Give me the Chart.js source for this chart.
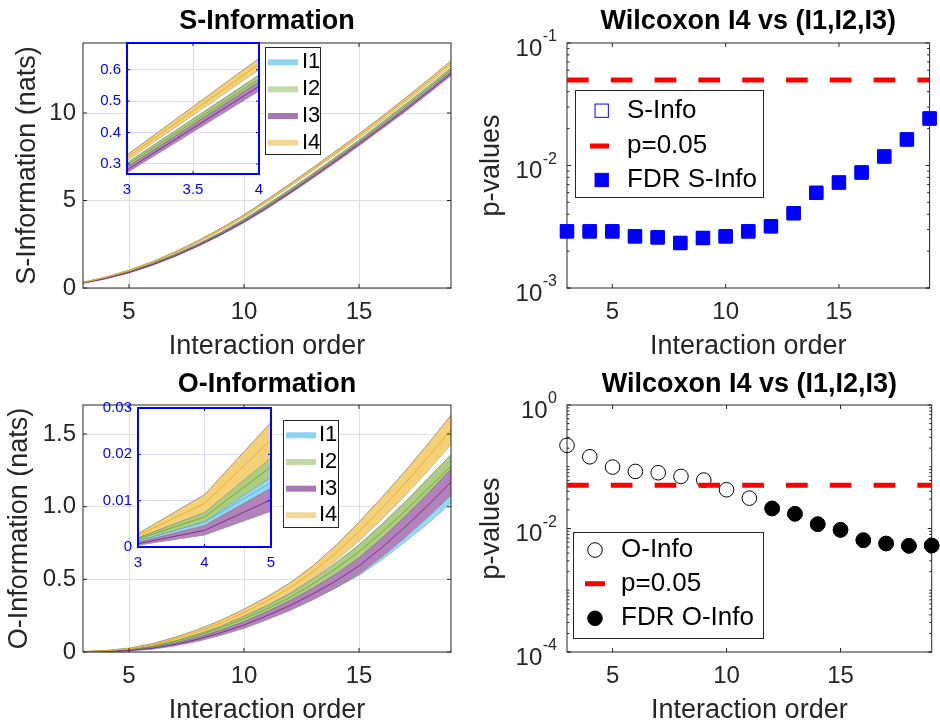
<!DOCTYPE html>
<html><head><meta charset="utf-8">
<script src="https://cdn.jsdelivr.net/npm/chart.js@4.4.1/dist/chart.umd.min.js"></script>
<style>
html,body{margin:0;padding:0;background:#fff;overflow:hidden;width:940px;height:722px;}
canvas{position:absolute;}
</style></head><body>
<canvas id="cS" width="470" height="361" style="left:0px;top:0px"></canvas>
<canvas id="cPS" width="470" height="361" style="left:470px;top:0px"></canvas>
<canvas id="cO" width="470" height="361" style="left:0px;top:361px"></canvas>
<canvas id="cPO" width="470" height="361" style="left:470px;top:361px"></canvas>
<canvas id="cSi" width="186" height="166" style="left:88px;top:36px"></canvas>
<canvas id="cOi" width="186" height="175" style="left:98px;top:400px"></canvas>
<script>
// ---------------- DATA ----------------
const ORDERS = [3,4,5,6,7,8,9,10,11,12,13,14,15,16,17,18,19];
const SERIES = ['I1','I2','I3','I4'];

// S-Information (nats): mean and spread per group
const S_I1 = [0.289,0.558,0.905,1.345,1.865,2.45,3.11,3.84,4.65,5.515,6.415,7.34,8.295,9.285,10.275,11.305,12.365];
const S_I2 = [0.297,0.570,0.925,1.37,1.90,2.48,3.15,3.89,4.71,5.58,6.48,7.41,8.37,9.38,10.38,11.41,12.48];
const S_I3 = [0.281,0.547,0.885,1.32,1.83,2.42,3.07,3.79,4.59,5.45,6.35,7.27,8.22,9.19,10.17,11.20,12.25];
const S_I4 = [0.320,0.618,1.00,1.47,2.03,2.66,3.36,4.12,4.98,5.88,6.80,7.74,8.70,9.70,10.72,11.77,12.85];
const S_I1_SD = [0.006,0.013,0.020,0.026,0.034,0.040,0.048,0.055,0.061,0.069,0.076,0.082,0.090,0.097,0.103,0.111,0.118];
const S_I2_SD = [0.007,0.013,0.020,0.027,0.034,0.041,0.047,0.055,0.062,0.069,0.075,0.083,0.090,0.097,0.104,0.111,0.118];
const S_I3_SD = [0.009,0.015,0.022,0.029,0.036,0.043,0.050,0.057,0.064,0.071,0.078,0.085,0.092,0.099,0.106,0.113,0.120];
const S_I4_SD = [0.009,0.018,0.025,0.032,0.040,0.048,0.056,0.064,0.072,0.080,0.088,0.096,0.104,0.112,0.120,0.128,0.136];

// O-Information (nats): mean and spread per group
const O_I1 = [0.0013,0.0054,0.0139,0.029,0.056,0.092,0.136,0.190,0.250,0.316,0.392,0.476,0.566,0.680,0.808,0.942,1.090];
const O_I2 = [0.0017,0.0065,0.0173,0.037,0.072,0.115,0.168,0.230,0.297,0.375,0.470,0.575,0.690,0.825,0.970,1.125,1.280];
const O_I3 = [0.0007,0.0036,0.0102,0.025,0.052,0.088,0.133,0.186,0.250,0.320,0.400,0.490,0.592,0.720,0.860,1.010,1.170];
const O_I4 = [0.0025,0.0094,0.0231,0.050,0.090,0.140,0.200,0.272,0.352,0.442,0.552,0.682,0.830,0.990,1.160,1.340,1.530];
const O_I1_SD = [0.0002,0.0006,0.0012,0.003,0.006,0.009,0.012,0.016,0.020,0.024,0.028,0.033,0.038,0.044,0.050,0.057,0.065];
const O_I2_SD = [0.0003,0.0010,0.0022,0.005,0.008,0.011,0.014,0.018,0.022,0.027,0.033,0.040,0.048,0.056,0.063,0.070,0.078];
const O_I3_SD = [0.0003,0.0010,0.0025,0.006,0.010,0.014,0.018,0.023,0.028,0.034,0.040,0.047,0.056,0.064,0.072,0.081,0.090];
const O_I4_SD = [0.0004,0.0019,0.0038,0.007,0.011,0.015,0.019,0.023,0.028,0.034,0.042,0.052,0.065,0.075,0.084,0.092,0.100];

// Wilcoxon p-values
const P_SINFO     = [0.0029,0.0029,0.0029,0.00264,0.00259,0.00233,0.00256,0.00264,0.0029,0.00319,0.00408,0.00598,0.00726,0.00877,0.01185,0.01632,0.0242];
const P_SINFO_FDR = [0.0029,0.0029,0.0029,0.00264,0.00259,0.00233,0.00256,0.00264,0.0029,0.00319,0.00408,0.00598,0.00726,0.00877,0.01185,0.01632,0.0242];
const P_OINFO     = [0.222,0.145,0.0988,0.084,0.080,0.0697,0.0608,0.0424,0.031,0.0211,0.0173,0.01175,0.0095,0.00647,0.00571,0.00524,0.0053];
const P_OINFO_FDR = [null,null,null,null,null,null,null,null,null,0.0211,0.0173,0.01175,0.0095,0.00647,0.00571,0.00524,0.0053];
const P_THRESH = 0.05;

// ticks
const X_TICKS = [5,10,15];
const S_Y_TICKS = [0,5,10];
const O_Y_TICKS = [0,0.5,1.0,1.5];
const SI_X_TICKS = [3,3.5,4];
const SI_Y_TICKS = [0.3,0.4,0.5,0.6];
const OI_X_TICKS = [3,4,5];
const OI_Y_TICKS = [0,0.01,0.02,0.03];
const PS_Y_TICKS = [1e-3,1e-2,1e-1];
const PO_Y_TICKS = [1e-4,1e-2,1];

// ---------------- STYLE ----------------
const FONT = "'Liberation Sans', Arial, Helvetica, sans-serif";
Chart.defaults.font.family = FONT;
const LINE_COLORS = ['#4DBEEE','#77AC30','#7E2F8E','#EDB120'];
const FILL_COLORS = ['rgb(148,216,245)','rgb(173,205,131)','rgb(178,130,187)','rgb(244,208,121)'];
const LEGEND_COLORS = ['rgb(140,212,242)','rgb(196,218,166)','rgb(168,120,182)','rgb(246,214,150)'];
const EDGE = 'rgba(115,115,115,0.85)';
const TXT = '#262626';

// ---------------- HELPERS ----------------
function setTicks(vals){ return s => { s.ticks = vals.map(v => ({value: v})); }; }
function fixedAxis(size){ return s => {
  if (s.isHorizontal()) s.height = size; else s.width = size;
  s.paddingLeft = 0; s.paddingRight = 0; s.paddingTop = 0; s.paddingBottom = 0;
}; }

function bandDatasets(means, sds){
  const out = [];
  means.forEach((m, k) => {
    const sd = sds[k], base = 100 - k * 3;
    out.push({data: ORDERS.map((x,i) => ({x, y: m[i] - sd[i]})), borderColor: EDGE, borderWidth: 0.8, pointRadius: 0, fill: false, order: base});
    out.push({data: ORDERS.map((x,i) => ({x, y: m[i] + sd[i]})), borderColor: EDGE, borderWidth: 0.8, pointRadius: 0, fill: '-1', backgroundColor: FILL_COLORS[k], order: base - 1});
    out.push({label: SERIES[k], data: ORDERS.map((x,i) => ({x, y: m[i]})), borderColor: LINE_COLORS[k], borderWidth: 1, pointRadius: 0, fill: false, order: base - 2});
  });
  return out;
}

function drawFrame(chart, o){
  const ar = chart.chartArea, c = chart.ctx, xs = chart.scales.x, ys = chart.scales.y;
  c.save();
  c.strokeStyle = o.color; c.lineWidth = 1;
  c.beginPath();
  const L = o.tickLen;
  xs.ticks.forEach(t => { const p = xs.getPixelForValue(t.value); c.moveTo(p, ar.bottom); c.lineTo(p, ar.bottom - L); c.moveTo(p, ar.top); c.lineTo(p, ar.top + L); });
  ys.ticks.forEach(t => { const p = ys.getPixelForValue(t.value); c.moveTo(ar.left, p); c.lineTo(ar.left + L, p); c.moveTo(ar.right, p); c.lineTo(ar.right - L, p); });
  if (o.minorLog){
    const lo = Math.floor(Math.log10(ys.min)), hi = Math.ceil(Math.log10(ys.max));
    for (let d = lo; d < hi; d++) for (let k = 1; k <= 9; k++){
      const v = k * Math.pow(10, d);
      if (v < ys.min * 0.999 || v > ys.max * 1.001) continue;
      const p = ys.getPixelForValue(v);
      c.moveTo(ar.left, p); c.lineTo(ar.left + o.minorLen, p);
      c.moveTo(ar.right, p); c.lineTo(ar.right - o.minorLen, p);
    }
  }
  c.stroke();
  c.lineWidth = o.width;
  c.strokeRect(ar.left, ar.top, ar.right - ar.left, ar.bottom - ar.top);
  c.restore();
}

function drawLogLabels(chart, vals){
  const ar = chart.chartArea, c = chart.ctx, ys = chart.scales.y;
  c.save(); c.fillStyle = TXT; c.textBaseline = 'middle'; c.textAlign = 'right';
  vals.forEach(v => {
    const p = ys.getPixelForValue(v);
    const e = String(Math.round(Math.log10(v)));
    const xr = ar.left - 10;
    c.font = "16px " + FONT;
    const w = c.measureText(e).width;
    c.fillText(e, xr, p - 6);
    c.font = "24px " + FONT;
    c.fillText('10', xr - w - 0.5, p + 6);
  });
  c.restore();
}

function drawSymbol(c, it, L, y){
  c.save();
  if (it.kind === 'swatch' || it.kind === 'dash'){
    c.strokeStyle = it.color; c.lineWidth = it.kind === 'swatch' ? 6 : 5;
    c.beginPath(); c.moveTo(L.symX0, y); c.lineTo(L.symX1, y); c.stroke();
  } else if (it.kind === 'rect'){
    const h = 6.65;
    if (it.fill){ c.fillStyle = it.fill; c.fillRect(L.symX - h, y - h, 2*h, 2*h); }
    c.strokeStyle = it.stroke; c.lineWidth = 1; c.strokeRect(L.symX - h, y - h, 2*h, 2*h);
  } else if (it.kind === 'circle'){
    c.beginPath(); c.arc(L.symX, y, 7.3, 0, Math.PI*2);
    if (it.fill){ c.fillStyle = it.fill; c.fill(); }
    c.strokeStyle = it.stroke; c.lineWidth = 1; c.stroke();
  }
  c.restore();
}

function drawLegend(chart, L){
  const c = chart.ctx;
  c.save();
  const [x0,y0,x1,y1] = L.box;
  c.fillStyle = '#fff'; c.fillRect(x0, y0, x1 - x0, y1 - y0);
  c.strokeStyle = TXT; c.lineWidth = 1; c.strokeRect(x0 + 0.5, y0 + 0.5, x1 - x0 - 1, y1 - y0 - 1);
  L.items.forEach((it, i) => {
    const y = L.ys[i];
    drawSymbol(c, it, L, y);
    c.fillStyle = '#000'; c.font = L.font; c.textAlign = 'left'; c.textBaseline = 'middle';
    c.fillText(it.text, L.textX, y);
  });
  c.restore();
}

function framePlugin(o){
  return {
    id: 'frame',
    beforeDraw(chart){
      if (!o.bg) return;
      const ar = chart.chartArea, c = chart.ctx;
      c.save(); c.fillStyle = o.bg; c.fillRect(ar.left, ar.top, ar.right - ar.left, ar.bottom - ar.top); c.restore();
    },
    beforeDatasetsDraw(chart){ if (!o.onTop) drawFrame(chart, o); },
    afterDatasetsDraw(chart){ if (o.onTop) drawFrame(chart, o); },
    afterDraw(chart){
      if (o.logLabels) drawLogLabels(chart, o.logLabels);
      if (o.legend) drawLegend(chart, o.legend);
    }
  };
}

function baseOptions(title, titlePad, pad){
  return {
    responsive: false, animation: false, events: [],
    layout: {padding: pad},
    plugins: {
      legend: {display: false}, tooltip: {enabled: false},
      title: title ? {display: true, text: title, fullSize: false, color: '#000',
        font: {size: 27, weight: 'bold', lineHeight: 1.2}, padding: titlePad} : {display: false}
    }
  };
}

function linScale(min, max, ticks, size, tickPad, fontSize, color, gridColor, fmt, title, titlePad){
  return {
    type: 'linear', min, max, bounds: 'data',
    afterBuildTicks: setTicks(ticks), afterFit: fixedAxis(size),
    grid: gridColor ? {display: true, color: gridColor, lineWidth: 1, drawTicks: false} : {display: false, drawTicks: false},
    border: {display: false},
    ticks: {font: {size: fontSize}, color, padding: tickPad, maxRotation: 0, autoSkip: false, callback: fmt},
    title: title ? {display: true, text: title, color: TXT, font: {size: 27, lineHeight: 1.2}, padding: titlePad} : {display: false}
  };
}

// ---------------- S-INFORMATION ----------------
new Chart(document.getElementById('cS'), {
  type: 'line',
  data: {datasets: bandDatasets([S_I1,S_I2,S_I3,S_I4], [S_I1_SD,S_I2_SD,S_I3_SD,S_I4_SD])},
  options: Object.assign(baseOptions('S-Information', {top: 5, bottom: 5.6}, {left: 0, right: 19, top: 0, bottom: 0}), {
    scales: {
      x: linScale(3, 19, X_TICKS, 73, 10, 24, TXT, '#dfdfdf', v => String(v), 'Interaction order', {top: 0, bottom: -1.8}),
      y: linScale(0, 14, S_Y_TICKS, 83, 7, 24, TXT, '#dfdfdf', v => String(v), 'S-Information (nats)', {top: 11, bottom: 0})
    }
  }),
  plugins: [framePlugin({color: TXT, width: 1, tickLen: 4, onTop: true,
    legend: {box: [265,47,321,155], font: "22px " + FONT, symX0: 268, symX1: 298, textX: 302,
      ys: [62.3, 89.3, 116, 142.7],
      items: SERIES.map((s,k) => ({text: s, kind: 'swatch', color: LEGEND_COLORS[k]}))}})]
});

// ---------------- O-INFORMATION ----------------
new Chart(document.getElementById('cO'), {
  type: 'line',
  data: {datasets: bandDatasets([O_I1,O_I2,O_I3,O_I4], [O_I1_SD,O_I2_SD,O_I3_SD,O_I4_SD])},
  options: Object.assign(baseOptions('O-Information', {top: 7, bottom: 4.6}, {left: 0, right: 19, top: 0, bottom: 0}), {
    scales: {
      x: linScale(3, 19, X_TICKS, 70, 10, 24, TXT, '#dfdfdf', v => String(v), 'Interaction order', {top: 0, bottom: -5}),
      y: linScale(0, 1.7, O_Y_TICKS, 83, 7, 24, TXT, '#dfdfdf', v => v === 0 ? '0' : v.toFixed(1), 'O-Information (nats)', {top: 3.7, bottom: 0})
    }
  }),
  plugins: [framePlugin({color: TXT, width: 1, tickLen: 4, onTop: true,
    legend: {box: [283,59,339,167], font: "22px " + FONT, symX0: 286, symX1: 316, textX: 319,
      ys: [74.3, 101, 127.7, 154.3],
      items: SERIES.map((s,k) => ({text: s, kind: 'swatch', color: LEGEND_COLORS[k]}))}})]
});

// ---------------- INSETS ----------------
new Chart(document.getElementById('cSi'), {
  type: 'line',
  data: {datasets: bandDatasets([S_I1,S_I2,S_I3,S_I4], [S_I1_SD,S_I2_SD,S_I3_SD,S_I4_SD])},
  options: Object.assign(baseOptions(null, null, {left: 0, right: 15, top: 7, bottom: 0}), {
    scales: {
      x: linScale(3, 4, SI_X_TICKS, 28, 7, 15, '#0000ff', 'rgb(217,217,255)', v => String(v), null),
      y: linScale(0.268, 0.685, SI_Y_TICKS, 39, 6, 15, '#0000ff', 'rgb(217,217,255)', v => String(v), null)
    }
  }),
  plugins: [framePlugin({bg: '#fff', color: '#0000ff', width: 2, tickLen: 3, onTop: true})]
});

new Chart(document.getElementById('cOi'), {
  type: 'line',
  data: {datasets: bandDatasets([O_I1,O_I2,O_I3,O_I4], [O_I1_SD,O_I2_SD,O_I3_SD,O_I4_SD])},
  options: Object.assign(baseOptions(null, null, {left: 0, right: 13, top: 8, bottom: 0}), {
    scales: {
      x: linScale(3, 5, OI_X_TICKS, 28, 7, 15, '#0000ff', 'rgb(217,217,255)', v => String(v), null),
      y: linScale(0, 0.03, OI_Y_TICKS, 40, 6, 15, '#0000ff', 'rgb(217,217,255)', v => String(v), null)
    }
  }),
  plugins: [framePlugin({bg: '#fff', color: '#0000ff', width: 2, tickLen: 3, onTop: true})]
});

// ---------------- P-VALUE PANELS ----------------
function pChart(id, titlePad, yMin, yMax, yTicks, yTitlePad, xHeight, raw, fdr, rawItem, fdrItem, legend){
  const pts = arr => ORDERS.map((x,i) => ({x, y: arr[i]})).filter(p => p.y !== null);
  const datasets = [
    Object.assign({label: rawItem.text, data: pts(raw), showLine: false, clip: false, order: 3,
      pointStyle: rawItem.kind === 'rect' ? 'rect' : 'circle', pointRadius: rawItem.kind === 'rect' ? 9.4 : 7.3,
      backgroundColor: 'rgba(0,0,0,0)', borderColor: rawItem.stroke, pointBorderWidth: 1, borderWidth: 1}),
    {label: 'p=0.05', data: [{x: ORDERS[0], y: P_THRESH}, {x: ORDERS[ORDERS.length-1], y: P_THRESH}],
      borderColor: '#ff0000', borderWidth: 5, borderDash: [21.7, 22.1], pointRadius: 0, fill: false, order: 2, borderCapStyle: 'butt'},
    Object.assign({label: fdrItem.text, data: pts(fdr), showLine: false, clip: false, order: 1,
      pointStyle: fdrItem.kind === 'rect' ? 'rect' : 'circle', pointRadius: fdrItem.kind === 'rect' ? 9.4 : 7.3,
      backgroundColor: fdrItem.fill, borderColor: fdrItem.stroke, pointBorderWidth: 1, borderWidth: 1})
  ];
  legend.items = [rawItem, {text: 'p=0.05', kind: 'dash', color: '#ff0000'}, fdrItem];
  new Chart(document.getElementById(id), {
    type: 'line',
    data: {datasets},
    options: Object.assign(baseOptions('Wilcoxon I4 vs (I1,I2,I3)', titlePad, {left: 0, right: 6, top: 0, bottom: 0}), {
      scales: {
        x: linScale(3, 19, X_TICKS, xHeight, 10, 24, TXT, null, v => String(v), 'Interaction order', {top: 0, bottom: xHeight === 73 ? -1.8 : -5}),
        y: {type: 'logarithmic', min: yMin, max: yMax,
          afterBuildTicks: setTicks(yTicks), afterFit: fixedAxis(97),
          grid: {display: false, drawTicks: false}, border: {display: false},
          ticks: {display: false},
          title: {display: true, text: 'p-values', color: TXT, font: {size: 27, lineHeight: 1.2}, padding: {top: yTitlePad, bottom: 0}}}
      }
    }),
    plugins: [framePlugin({color: TXT, width: 1, tickLen: 4, minorLog: true, minorLen: 2.5, onTop: false,
      logLabels: yTicks, legend})]
  });
}

pChart('cPS', {top: 5, bottom: 5.6}, 1e-3, 1e-1, PS_Y_TICKS, 5.4, 73, P_SINFO, P_SINFO_FDR,
  {text: 'S-Info', kind: 'rect', fill: null, stroke: '#0000ff'},
  {text: 'FDR S-Info', kind: 'rect', fill: '#0000ff', stroke: '#0000ff'},
  {box: [105,90,294,198], font: "26px " + FONT, symX: 131.7, symX0: 120, symX1: 139, textX: 157, ys: [110.7, 146, 180]});

pChart('cPO', {top: 7, bottom: 4.6}, 1e-4, 1, PO_Y_TICKS, 5.4, 70, P_OINFO, P_OINFO_FDR,
  {text: 'O-Info', kind: 'circle', fill: null, stroke: '#000000'},
  {text: 'FDR O-Info', kind: 'circle', fill: '#000000', stroke: '#000000'},
  {box: [103,171,294,278], font: "26px " + FONT, symX: 125, symX0: 115, symX1: 135, textX: 151, ys: [189, 222.7, 257.3]});
</script>
</body></html>
